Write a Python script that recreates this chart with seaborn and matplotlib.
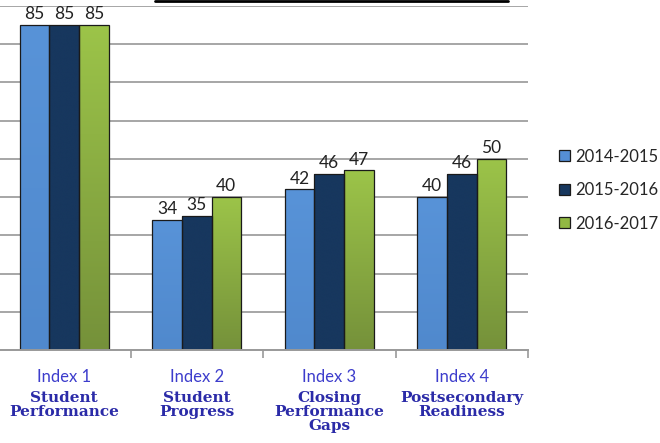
import numpy as np
import pandas as pd
import matplotlib
matplotlib.use("Agg")
import matplotlib.pyplot as plt
import seaborn as sns
from matplotlib.lines import Line2D
from matplotlib.colors import LinearSegmentedColormap

# ---- data ----
indices = ["Index 1", "Index 2", "Index 3", "Index 4"]
names = ["Student\nPerformance", "Student\nProgress", "Closing\nPerformance\nGaps", "Postsecondary\nReadiness"]
years = ["2014-2015", "2015-2016", "2016-2017"]
v_2014 = [85, 34, 42, 40]
v_2015 = [85, 35, 46, 46]
v_2016 = [85, 40, 47, 50]

df = pd.DataFrame({
    "index": indices * 3,
    "year": [years[0]] * 4 + [years[1]] * 4 + [years[2]] * 4,
    "value": v_2014 + v_2015 + v_2016,
})

colors = {"2014-2015": "#558ed5", "2015-2016": "#17375e", "2016-2017": "#92b943"}
grads = {
    "2014-2015": ("#5893d8", "#5089cd"),
    "2015-2016": ("#17375e", "#17375e"),
    "2016-2017": ("#9cc449", "#75913a"),
}

sns.set_style("white")
plt.rcParams["font.family"] = ["Lato", "DejaVu Sans"]

fig = plt.figure(figsize=(6.6, 4.43), dpi=100)
ax = fig.add_axes([-2 / 660, 1 - 350 / 443, (528 + 2) / 660, (350 - 6) / 443])

sns.barplot(data=df, x="index", y="value", hue="year", hue_order=years,
            order=indices, palette=colors, width=0.67, ax=ax,
            edgecolor="#1a1a1a", linewidth=0.9, legend=False)

ax.set_ylim(0, 90)
ax.set_xlim(-0.5, 3.5)
ax.set_yticks(np.arange(10, 91, 10))
ax.yaxis.grid(True, color="#a6a6a6", linewidth=1.4)
ax.set_axisbelow(True)
ax.tick_params(axis="y", left=False, labelleft=False)
for s in ["top", "right", "left"]:
    ax.spines[s].set_visible(False)
ax.spines["bottom"].set_color("#999999")
ax.spines["bottom"].set_linewidth(1.4)
ax.set_xlabel("")
ax.set_ylabel("")

# gradients on bars
for cont, yr in zip(ax.containers, years):
    top, bot = grads[yr]
    cmap = LinearSegmentedColormap.from_list("g", [bot, top])
    for p in cont.patches:
        x0, y0 = p.get_x(), p.get_y()
        w, h = p.get_width(), p.get_height()
        grad = np.linspace(0, 1, 256).reshape(-1, 1)
        im = ax.imshow(grad, extent=[x0, x0 + w, y0, y0 + h], origin="lower",
                       cmap=cmap, aspect="auto", zorder=p.get_zorder(), interpolation="bicubic")
        im.set_clip_path(p)
        p.set_facecolor("none")
        p.set_zorder(p.get_zorder() + 0.1)
    ax.bar_label(cont, labels=[str(int(v)) for v in cont.datavalues], padding=2,
                 fontsize=12.5, color="#222222")

ax.set_xlim(-0.5, 3.5)
ax.set_ylim(0, 90)

# x ticks at boundaries
ax.set_xticks([0.5, 1.5, 2.5, 3.5])
ax.set_xticklabels([])
ax.tick_params(axis="x", bottom=True, length=6, width=1.2, color="#999999")

trans = ax.get_xaxis_transform()
for i, (idx, nm) in enumerate(zip(indices, names)):
    ax.text(i, -0.078, idx, transform=trans, ha="center", va="center",
            fontsize=12, color="#3d3dcc")
    ax.text(i, -0.118, nm, transform=trans, ha="center", va="top",
            fontsize=11, fontweight="bold", family=["DejaVu Serif"],
            color="#2b2ba8", linespacing=1.0)

# legend
handles = [plt.Rectangle((0, 0), 1, 1, facecolor=colors[y], edgecolor="#1a1a1a", linewidth=0.9) for y in years]
fig.legend(handles, years, loc="center left", bbox_to_anchor=(547 / 660, 1 - 190 / 443),
           frameon=False, fontsize=12, handlelength=0.65, handleheight=0.65,
           handletextpad=0.35, labelspacing=1.05, borderpad=0.2)

# title underline (cropped title)
fig.add_artist(Line2D([155 / 660, 508 / 660], [1 - 1 / 443, 1 - 1 / 443], color="black", linewidth=2))

fig.savefig("out.png", dpi=100)
